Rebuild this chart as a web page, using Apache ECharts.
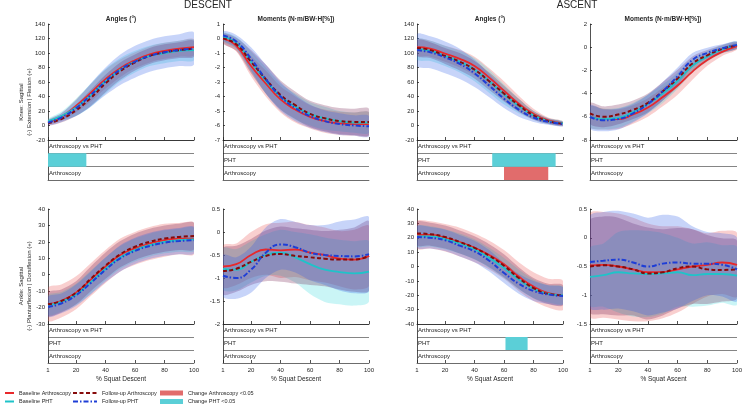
<!DOCTYPE html>
<html>
<head>
<meta charset="utf-8">
<script src="https://cdn.jsdelivr.net/npm/echarts@6.0.0/dist/echarts.min.js"></script>
<style>
html, body { margin: 0; padding: 0; background: #fff; }
#chart { width: 743px; height: 406px; }
</style>
</head>
<body>
<div id="chart"></div>
<script>
// % squat where the curves were read
var pct = [1, 10, 20, 30, 40, 50, 60, 70, 80, 90, 100];
var xTicks = [1, 20, 40, 60, 80, 100];
var groupNames = ['Baseline Arthroscopy', 'Baseline PHT', 'Follow-up Arthroscopy', 'Follow-up PHT'];
var sigRows = ['Arthroscopy', 'PHT', 'Arthroscopy vs PHT'];

// knee sagittal angle, descent
var kneeDescAngBA = [5, 12, 27, 45, 64, 79, 90, 98, 103, 106, 108];
var kneeDescAngBP = [6, 13, 25, 42, 61, 77, 88, 96, 100, 103, 104];
var kneeDescAngFA = [3, 9, 21, 38, 58, 75, 87, 96, 101, 104, 106];
var kneeDescAngFP = [4, 11, 24, 42, 61, 77, 88, 96, 101, 104, 106];
var kneeDescAngBA_sd = [3, 5, 9, 12, 13, 12, 11, 11, 11, 11, 11];
var kneeDescAngBP_sd = [3, 6, 12, 16, 17, 16, 15, 14, 14, 14, 14];
var kneeDescAngFA_sd = [3, 5, 8, 11, 12, 12, 11, 11, 11, 11, 11];
var kneeDescAngFP_sd = [3, 6, 11, 16, 19, 21, 22, 22, 22, 22, 22];

// knee sagittal moment, descent
var kneeDescMomBA = [0, -0.5, -1.9, -3.1, -4.2, -4.9, -5.4, -5.7, -5.85, -5.9, -5.9];
var kneeDescMomBP = [0.1, -0.3, -1.6, -2.9, -4.0, -4.7, -5.2, -5.5, -5.7, -5.8, -5.8];
var kneeDescMomFA = [0, -0.4, -1.6, -2.8, -3.9, -4.6, -5.2, -5.5, -5.7, -5.75, -5.75];
var kneeDescMomFP = [0.2, -0.2, -1.4, -2.8, -4.0, -4.8, -5.35, -5.7, -5.9, -6.0, -6.05];
var kneeDescMomBA_sd = [0.3, 0.4, 0.7, 0.9, 0.9, 0.9, 0.8, 0.8, 0.8, 0.8, 0.8];
var kneeDescMomBP_sd = [0.3, 0.4, 0.7, 0.9, 0.9, 0.9, 0.8, 0.8, 0.7, 0.7, 0.7];
var kneeDescMomFA_sd = [0.35, 0.45, 0.8, 1.0, 1.0, 0.95, 0.9, 0.9, 0.9, 0.9, 0.9];
var kneeDescMomFP_sd = [0.3, 0.45, 0.8, 1.0, 1.0, 0.9, 0.8, 0.75, 0.75, 0.7, 0.7];

// knee sagittal angle, ascent
var kneeAscAngBA = [108, 106, 99, 92, 82, 66, 48, 30, 16, 7, 3];
var kneeAscAngBP = [105, 103, 96, 88, 77, 61, 43, 27, 14, 6, 3];
var kneeAscAngFA = [107, 104, 96, 88, 77, 61, 44, 28, 14, 6, 2];
var kneeAscAngFP = [104, 101, 94, 85, 72, 55, 37, 22, 11, 5, 2];
var kneeAscAngBA_sd = [11, 11, 11, 12, 13, 13, 13, 11, 7, 4, 3];
var kneeAscAngBP_sd = [14, 14, 14, 15, 16, 16, 14, 10, 6, 4, 3];
var kneeAscAngFA_sd = [11, 11, 11, 12, 12, 12, 11, 9, 6, 4, 3];
var kneeAscAngFP_sd = [22, 22, 22, 21, 19, 16, 13, 10, 6, 4, 3];

// knee sagittal moment, ascent
var kneeAscMomBA = [-6.0, -6.2, -6.2, -5.8, -5.2, -4.3, -3.3, -2.1, -1.1, -0.4, 0.1];
var kneeAscMomBP = [-6.0, -6.2, -6.1, -5.6, -4.9, -4.0, -2.9, -1.6, -0.8, -0.2, 0.2];
var kneeAscMomFA = [-5.7, -6.0, -5.8, -5.4, -4.8, -3.8, -2.7, -1.4, -0.7, -0.15, 0.15];
var kneeAscMomFP = [-6.0, -6.3, -6.2, -5.7, -4.9, -3.8, -2.5, -1.1, -0.5, -0.1, 0.2];
var kneeAscMomBA_sd = [0.9, 0.9, 0.85, 0.8, 0.8, 0.8, 0.8, 0.7, 0.5, 0.35, 0.3];
var kneeAscMomBP_sd = [0.9, 0.9, 0.85, 0.8, 0.8, 0.8, 0.7, 0.6, 0.45, 0.35, 0.3];
var kneeAscMomFA_sd = [0.9, 0.9, 0.85, 0.8, 0.8, 0.8, 0.75, 0.6, 0.45, 0.35, 0.3];
var kneeAscMomFP_sd = [1.0, 0.95, 0.9, 0.8, 0.8, 0.8, 0.75, 0.6, 0.45, 0.35, 0.3];

// ankle sagittal angle, descent
var ankleDescAngBA = [-18, -16, -11, -3, 5, 12, 16, 19, 21, 22, 22];
var ankleDescAngBP = [-18.5, -16.5, -12, -4.5, 3.5, 10.5, 15, 18, 20, 21, 21.5];
var ankleDescAngFA = [-18, -16, -11, -2.5, 5.5, 12.5, 17, 20, 22, 23, 23.5];
var ankleDescAngFP = [-19.5, -17.5, -12.5, -5, 3, 10, 14.5, 17.5, 19.5, 20.5, 21];
var ankleDescAngBA_sd = [10, 10, 10, 10, 10, 10, 10, 10, 10, 9.5, 9.5];
var ankleDescAngBP_sd = [6, 6, 6.5, 7, 7, 7, 7, 7, 7, 7, 7];
var ankleDescAngFA_sd = [7, 7, 7, 7.5, 8, 8, 8, 8, 8, 8, 8];
var ankleDescAngFP_sd = [6, 6, 6.5, 7, 7.5, 8, 8, 8, 8, 8, 8];

// ankle sagittal moment, descent
var ankleDescMomBA = [-0.75, -0.7, -0.5, -0.38, -0.4, -0.38, -0.45, -0.5, -0.58, -0.6, -0.52];
var ankleDescMomBP = [-0.8, -0.82, -0.65, -0.5, -0.45, -0.55, -0.7, -0.82, -0.87, -0.9, -0.86];
var ankleDescMomFA = [-0.85, -0.8, -0.65, -0.52, -0.48, -0.52, -0.55, -0.58, -0.6, -0.6, -0.52];
var ankleDescMomFP = [-0.95, -1.0, -0.82, -0.45, -0.27, -0.33, -0.45, -0.5, -0.52, -0.53, -0.48];
var ankleDescMomBA_sd = [0.45, 0.45, 0.5, 0.55, 0.6, 0.6, 0.6, 0.6, 0.6, 0.65, 0.65];
var ankleDescMomBP_sd = [0.45, 0.45, 0.45, 0.45, 0.5, 0.55, 0.65, 0.7, 0.7, 0.7, 0.65];
var ankleDescMomFA_sd = [0.5, 0.5, 0.5, 0.55, 0.6, 0.6, 0.6, 0.6, 0.65, 0.7, 0.75];
var ankleDescMomFP_sd = [0.45, 0.45, 0.5, 0.55, 0.55, 0.55, 0.6, 0.65, 0.75, 0.8, 0.8];

// ankle sagittal angle, ascent
var ankleAscAngBA = [22, 22, 20, 17, 13, 8, 1.5, -7, -14, -18.5, -20];
var ankleAscAngBP = [21, 21, 19, 16, 12, 6, -1, -9, -15.5, -19, -20];
var ankleAscAngFA = [23, 22.5, 20.5, 17, 13, 7.5, 0.5, -8, -15, -19, -20];
var ankleAscAngFP = [20.5, 20, 18.3, 14.5, 10.5, 4, -4.5, -12, -17, -19.5, -20.5];
var ankleAscAngBA_sd = [9.5, 9.5, 9.5, 10, 10, 10, 10, 10, 10, 10, 10];
var ankleAscAngBP_sd = [7, 7, 7, 7, 7, 7, 7, 7, 6.5, 6, 6];
var ankleAscAngFA_sd = [8, 8, 8, 8, 8, 8, 8, 7.5, 7, 7, 7];
var ankleAscAngFP_sd = [7.5, 7.5, 7.5, 7.5, 7.5, 7.5, 7, 7, 7, 6.5, 6];

// ankle sagittal moment, ascent
var ankleAscMomBA = [-0.48, -0.47, -0.5, -0.55, -0.6, -0.6, -0.55, -0.5, -0.47, -0.43, -0.47];
var ankleAscMomBP = [-0.68, -0.65, -0.6, -0.62, -0.63, -0.62, -0.6, -0.65, -0.63, -0.63, -0.66];
var ankleAscMomFA = [-0.5, -0.48, -0.5, -0.55, -0.62, -0.6, -0.53, -0.5, -0.55, -0.56, -0.55];
var ankleAscMomFP = [-0.42, -0.4, -0.38, -0.43, -0.5, -0.45, -0.43, -0.45, -0.45, -0.47, -0.55];
var ankleAscMomBA_sd = [0.9, 0.92, 0.92, 0.9, 0.85, 0.8, 0.75, 0.65, 0.55, 0.55, 0.55];
var ankleAscMomBP_sd = [0.5, 0.55, 0.7, 0.75, 0.75, 0.7, 0.6, 0.55, 0.55, 0.5, 0.5];
var ankleAscMomFA_sd = [0.8, 0.85, 0.85, 0.8, 0.8, 0.75, 0.7, 0.65, 0.6, 0.55, 0.5];
var ankleAscMomFP_sd = [0.8, 0.85, 0.85, 0.85, 0.85, 0.85, 0.8, 0.65, 0.55, 0.55, 0.55];

// significant change ranges [start %, end %]
var kneeDescAngPHT = [[1, 27]];
var kneeAscAngPHT = [[52, 95]];
var kneeAscAngArth = [[60, 90]];
var ankleAscAngPHT = [[61, 76]];

// y axis ranges [min, max, step]
var yKneeAng = [-20, 140, 20];
var yKneeDescMom = [-7, 1, 1];
var yKneeAscMom = [-8, 2, 2];
var yAnkleDescAng = [-30, 40, 10];
var yAnkleDescMom = [-2, 0.5, 0.5];
var yAnkleAscAng = [-40, 40, 10];
var yAnkleAscMom = [-1.5, 0.5, 0.5];

var panels = [
    {m: [kneeDescAngBA, kneeDescAngBP, kneeDescAngFA, kneeDescAngFP], s: [kneeDescAngBA_sd, kneeDescAngBP_sd, kneeDescAngFA_sd, kneeDescAngFP_sd], y: yKneeAng, arth: [], pht: kneeDescAngPHT},
    {m: [kneeDescMomBA, kneeDescMomBP, kneeDescMomFA, kneeDescMomFP], s: [kneeDescMomBA_sd, kneeDescMomBP_sd, kneeDescMomFA_sd, kneeDescMomFP_sd], y: yKneeDescMom, arth: [], pht: []},
    {m: [kneeAscAngBA, kneeAscAngBP, kneeAscAngFA, kneeAscAngFP], s: [kneeAscAngBA_sd, kneeAscAngBP_sd, kneeAscAngFA_sd, kneeAscAngFP_sd], y: yKneeAng, arth: kneeAscAngArth, pht: kneeAscAngPHT},
    {m: [kneeAscMomBA, kneeAscMomBP, kneeAscMomFA, kneeAscMomFP], s: [kneeAscMomBA_sd, kneeAscMomBP_sd, kneeAscMomFA_sd, kneeAscMomFP_sd], y: yKneeAscMom, arth: [], pht: []},
    {m: [ankleDescAngBA, ankleDescAngBP, ankleDescAngFA, ankleDescAngFP], s: [ankleDescAngBA_sd, ankleDescAngBP_sd, ankleDescAngFA_sd, ankleDescAngFP_sd], y: yAnkleDescAng, arth: [], pht: []},
    {m: [ankleDescMomBA, ankleDescMomBP, ankleDescMomFA, ankleDescMomFP], s: [ankleDescMomBA_sd, ankleDescMomBP_sd, ankleDescMomFA_sd, ankleDescMomFP_sd], y: yAnkleDescMom, arth: [], pht: []},
    {m: [ankleAscAngBA, ankleAscAngBP, ankleAscAngFA, ankleAscAngFP], s: [ankleAscAngBA_sd, ankleAscAngBP_sd, ankleAscAngFA_sd, ankleAscAngFP_sd], y: yAnkleAscAng, arth: [], pht: ankleAscAngPHT},
    {m: [ankleAscMomBA, ankleAscMomBP, ankleAscMomFA, ankleAscMomFP], s: [ankleAscMomBA_sd, ankleAscMomBP_sd, ankleAscMomFA_sd, ankleAscMomFP_sd], y: yAnkleAscMom, arth: [], pht: []}
];

var FONT = 'Liberation Sans, Arial, sans-serif';
var TXT = '#262626';
var AX = '#262626';
var lineColors = ['#e8282b', '#1fc3c9', '#870b0b', '#1e3ed6'];
var bandColors = ['rgba(230,70,70,0.26)', 'rgba(50,215,220,0.26)', 'rgba(110,20,70,0.26)', 'rgba(40,90,230,0.26)'];
var lineTypes = ['solid', 'solid', [4, 2.5], [5, 2, 1.5, 2]];
var lineWidths = [1.8, 1.8, 2, 2];
var arthColor = '#e16c6c';
var phtColor = '#5bcfd7';

var colLeft = [48, 223, 417, 590];
var colW = [146, 146, 146, 147];
var plotTop = [24, 209], plotH = [116, 115];
var sigTop = [140, 324], sigH = [40, 39];

var chart = echarts.init(document.getElementById('chart'));
var grids = [], xAxes = [], yAxes = [], series = [];

function bandSeries(gi, lo, hi, color, yMin) {
    return {
        type: 'custom', xAxisIndex: gi, yAxisIndex: gi, silent: true, clip: true, z: 1,
        data: [[1, yMin]],
        renderItem: function (params, api) {
            var pts = [], k;
            for (k = 0; k < pct.length; k++) pts.push(api.coord([pct[k], hi[k]]));
            for (k = pct.length - 1; k >= 0; k--) pts.push(api.coord([pct[k], lo[k]]));
            return {type: 'polygon', shape: {points: pts, smooth: 0.3}, style: {fill: color}};
        }
    };
}

function sigSeries(gi, name, color, ranges, row) {
    return {
        type: 'custom', name: name, xAxisIndex: gi, yAxisIndex: gi, clip: true, z: 1,
        itemStyle: {color: color},
        encode: {x: [0, 1], y: 2},
        data: ranges.map(function (r) { return [r[0], r[1], row]; }),
        renderItem: function (params, api) {
            var a = api.coord([api.value(0), api.value(2)]);
            var b = api.coord([api.value(1), api.value(2)]);
            var h = api.size([0, 1])[1];
            return {type: 'rect', shape: {x: a[0], y: a[1] - h / 2, width: b[0] - a[0], height: h},
                style: {fill: api.visual('color')}};
        }
    };
}

panels.forEach(function (p, i) {
    var col = i % 4, row = Math.floor(i / 4);
    var gp = 2 * i, gs = 2 * i + 1;
    grids.push({left: colLeft[col], top: plotTop[row], width: colW[col], height: plotH[row], outerBoundsMode: 'none'});
    grids.push({left: colLeft[col], top: sigTop[row], width: colW[col], height: sigH[row], outerBoundsMode: 'none'});

    xAxes.push({
        gridIndex: gp, type: 'value', min: 1, max: 100, position: 'bottom',
        axisLine: {show: true, onZero: false, lineStyle: {color: AX, width: 0.8}},
        axisTick: {show: true, inside: true, length: 3, customValues: xTicks, lineStyle: {color: AX, width: 0.8}},
        axisLabel: {show: false}, splitLine: {show: false}
    });
    xAxes.push({
        gridIndex: gs, type: 'value', min: 1, max: 100, position: 'bottom',
        axisLine: {show: true, onZero: false, lineStyle: {color: '#666', width: 0.8}},
        axisTick: {show: row === 1, inside: true, length: 3, customValues: xTicks, lineStyle: {color: AX, width: 0.8}},
        axisLabel: {show: row === 1, customValues: xTicks, fontSize: 6, fontFamily: FONT, color: TXT, margin: 4},
        splitLine: {show: false},
        name: row === 1 ? (col < 2 ? '% Squat Descent' : '% Squat Ascent') : '',
        nameLocation: 'middle', nameGap: 13,
        nameTextStyle: {fontSize: 6.5, fontFamily: FONT, color: TXT}
    });
    yAxes.push({
        gridIndex: gp, type: 'value', min: p.y[0], max: p.y[1], interval: p.y[2],
        axisLine: {show: true, onZero: false, lineStyle: {color: AX, width: 0.8}},
        axisTick: {show: true, inside: true, length: 2, lineStyle: {color: AX, width: 0.8}},
        axisLabel: {fontSize: 6, fontFamily: FONT, color: TXT, margin: 3},
        splitLine: {show: false}
    });
    yAxes.push({
        gridIndex: gs, type: 'category', data: sigRows,
        axisLine: {show: true, onZero: false, lineStyle: {color: AX, width: 0.8}},
        axisTick: {show: false},
        axisLabel: {inside: true, fontSize: 6, fontFamily: FONT, color: TXT, margin: 1},
        splitLine: {show: true, lineStyle: {color: '#666', width: 0.8}}
    });

    var g;
    for (g = 0; g < 4; g++) {
        var m = p.m[g], s = p.s[g];
        var lo = m.map(function (v, k) { return v - s[k]; });
        var hi = m.map(function (v, k) { return v + s[k]; });
        series.push(bandSeries(gp, lo, hi, bandColors[g], p.y[0]));
    }
    for (g = 0; g < 4; g++) {
        series.push({
            type: 'line', name: groupNames[g], xAxisIndex: gp, yAxisIndex: gp,
            data: pct.map(function (x, k) { return [x, p.m[g][k]]; }),
            smooth: true, symbol: 'none', showSymbol: false, z: 3,
            lineStyle: {color: lineColors[g], width: lineWidths[g], type: lineTypes[g]},
            itemStyle: {color: lineColors[g]}
        });
    }
    series.push(sigSeries(gs, 'Change Arthroscopy <0.05', arthColor, p.arth, 0));
    series.push(sigSeries(gs, 'Change PHT <0.05', phtColor, p.pht, 1));
});

var subTitle = {fontSize: 6.5, fontWeight: 'bold', fontFamily: FONT, color: TXT};
var bigTitle = {fontSize: 10, fontWeight: 'normal', fontFamily: FONT, color: TXT};
var legendText = {fontSize: 5.5, fontFamily: FONT, color: TXT};
// hide the symbol drawn in the middle of line legend icons
var noSymbol = {opacity: 0, borderWidth: 0};

var option = {
    animation: false,
    backgroundColor: '#fff',
    title: [
        {text: 'DESCENT', left: 208, top: 0, textAlign: 'center', padding: 0, textStyle: bigTitle},
        {text: 'ASCENT', left: 577, top: 0, textAlign: 'center', padding: 0, textStyle: bigTitle},
        {text: 'Angles (°)', left: 121, top: 16, textAlign: 'center', padding: 0, textStyle: subTitle},
        {text: 'Moments (N·m/BW·H[%])', left: 296, top: 16, textAlign: 'center', padding: 0, textStyle: subTitle},
        {text: 'Angles (°)', left: 490, top: 16, textAlign: 'center', padding: 0, textStyle: subTitle},
        {text: 'Moments (N·m/BW·H[%])', left: 663, top: 16, textAlign: 'center', padding: 0, textStyle: subTitle}
    ],
    legend: [
        {data: ['Baseline Arthroscopy', 'Baseline PHT'],
            left: 4, top: 390, orient: 'vertical', padding: 0, itemStyle: noSymbol,
            itemWidth: 9, itemHeight: 5, itemGap: 2.5, selectedMode: false, textStyle: legendText},
        {data: ['Follow-up Arthroscopy', 'Follow-up PHT'],
            left: 72, top: 390, orient: 'vertical', padding: 0, itemStyle: noSymbol,
            itemWidth: 24, itemHeight: 5, itemGap: 2.5, selectedMode: false, textStyle: legendText},
        {data: [{name: 'Change Arthroscopy <0.05', icon: 'rect'}, {name: 'Change PHT <0.05', icon: 'rect'}],
            left: 160, top: 390, orient: 'vertical', padding: 0,
            itemWidth: 23, itemHeight: 5, itemGap: 2.5, selectedMode: false, textStyle: legendText}
    ],
    graphic: [
        {type: 'text', x: 25, y: 102, rotation: Math.PI / 2,
            style: {text: 'Knee: Sagittal\n(-) Extension | Flexion (+)', fontSize: 6, fontFamily: FONT, fill: TXT,
                textAlign: 'center', textVerticalAlign: 'middle', lineHeight: 8}},
        {type: 'text', x: 25, y: 286, rotation: Math.PI / 2,
            style: {text: 'Ankle: Sagittal\n(-) Plantarflexion | Dorsiflexion (+)', fontSize: 6, fontFamily: FONT, fill: TXT,
                textAlign: 'center', textVerticalAlign: 'middle', lineHeight: 8}}
    ],
    grid: grids,
    xAxis: xAxes,
    yAxis: yAxes,
    series: series
};

chart.setOption(option);
</script>
</body>
</html>
